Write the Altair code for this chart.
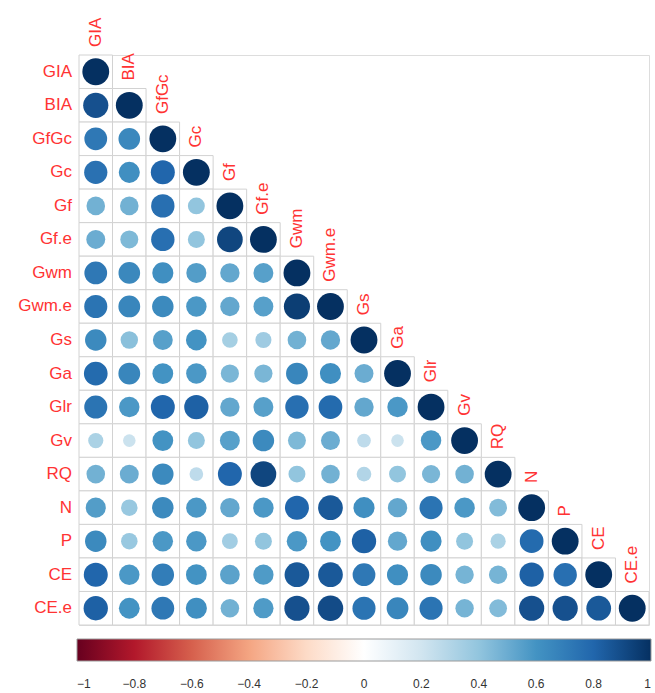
import altair as alt
import pandas as pd

# Variable names in plotting order
names = ["GIA", "BIA", "GfGc", "Gc", "Gf", "Gf.e", "Gwm", "Gwm.e", "Gs", "Ga",
         "Glr", "Gv", "RQ", "N", "P", "CE", "CE.e"]

# Lower-triangle correlations, one list per row (diagonal included)
r_GIA = [1.00]
r_BIA = [0.88, 1.00]
r_GfGc = [0.72, 0.65, 1.00]
r_Gc = [0.75, 0.62, 0.80, 1.00]
r_Gf = [0.48, 0.48, 0.76, 0.40, 1.00]
r_Gfe = [0.50, 0.45, 0.76, 0.40, 0.92, 1.00]
r_Gwm = [0.72, 0.65, 0.62, 0.56, 0.52, 0.55, 1.00]
r_Gwme = [0.74, 0.66, 0.64, 0.58, 0.52, 0.55, 0.95, 1.00]
r_Gs = [0.64, 0.42, 0.55, 0.60, 0.34, 0.36, 0.48, 0.52, 1.00]
r_Ga = [0.78, 0.66, 0.60, 0.58, 0.46, 0.46, 0.66, 0.62, 0.50, 1.00]
r_Glr = [0.74, 0.58, 0.80, 0.82, 0.52, 0.55, 0.76, 0.78, 0.52, 0.58, 1.00]
r_Gv = [0.32, 0.22, 0.60, 0.40, 0.55, 0.64, 0.45, 0.50, 0.26, 0.22, 0.58, 1.00]
r_RQ = [0.48, 0.50, 0.64, 0.26, 0.80, 0.92, 0.40, 0.48, 0.30, 0.40, 0.46, 0.48, 1.00]
r_N = [0.56, 0.38, 0.64, 0.58, 0.52, 0.58, 0.80, 0.85, 0.62, 0.52, 0.74, 0.58, 0.44, 1.00]
r_P = [0.64, 0.38, 0.58, 0.58, 0.35, 0.40, 0.58, 0.60, 0.82, 0.52, 0.62, 0.40, 0.32, 0.78, 1.00]
r_CE = [0.80, 0.58, 0.70, 0.60, 0.54, 0.57, 0.85, 0.85, 0.72, 0.62, 0.64, 0.47, 0.47, 0.82, 0.76, 1.00]
r_CEe = [0.82, 0.60, 0.72, 0.62, 0.48, 0.57, 0.88, 0.90, 0.74, 0.66, 0.74, 0.47, 0.44, 0.88, 0.88, 0.85, 1.00]

rows = [r_GIA, r_BIA, r_GfGc, r_Gc, r_Gf, r_Gfe, r_Gwm, r_Gwme, r_Gs, r_Ga,
        r_Glr, r_Gv, r_RQ, r_N, r_P, r_CE, r_CEe]

# Colour key ticks and RdBu palette
key_ticks = [-1, -0.8, -0.6, -0.4, -0.2, 0, 0.2, 0.4, 0.6, 0.8, 1]
rdbu = ["#67001F", "#B2182B", "#D6604D", "#F4A582", "#FDDBC7", "#FFFFFF",
        "#D1E5F0", "#92C5DE", "#4393C3", "#2166AC", "#053061"]

records = []
for i, row in enumerate(rows):
    for j, v in enumerate(row):
        records.append({"row": names[i], "col": names[j], "r": v, "absr": abs(v)})
df = pd.DataFrame(records)
diag = pd.DataFrame({"name": names, "first": [names[0]] * len(names)})

FONT = "Liberation Sans"
LABEL_RED = "#ff3333"
CELL = 570 / len(names)

band = alt.Scale(domain=names, paddingInner=0, paddingOuter=0)


def xpos(field):
    return alt.X(f"{field}:N", axis=None, scale=band)


def ypos(field):
    return alt.Y(f"{field}:N", axis=None, scale=band)


cells = alt.Chart(df).mark_rect(fill="white", stroke="#d2d2d2", strokeWidth=1).encode(
    x=xpos("col"), y=ypos("row")
)

circles = alt.Chart(df).mark_circle(opacity=1).encode(
    x=xpos("col"),
    y=ypos("row"),
    size=alt.Size("absr:Q", scale=alt.Scale(domain=[0, 1], range=[0, 720]), legend=None),
    color=alt.Color(
        "r:Q",
        scale=alt.Scale(domain=key_ticks, range=rdbu, interpolate="rgb"),
        legend=alt.Legend(
            type="gradient",
            orient="none", legendX=-2, legendY=584, direction="horizontal",
            gradientLength=574, gradientThickness=22, title=None,
            values=key_ticks, format="~g", labelAlign="center",
            labelFontSize=12, labelFont=FONT, labelColor="#333333",
            labelOffset=18, gradientStrokeColor="#9a9a9a", gradientStrokeWidth=1,
        ),
    ),
)

# Row names to the left of the first column
left_labels = alt.Chart(diag).mark_text(
    align="right", baseline="middle", font=FONT, fontSize=17, color=LABEL_RED,
    dx=-(CELL / 2 + 7),
).encode(x=xpos("first"), y=ypos("name"), text="name:N")

# Column names rotated above each diagonal cell
top_labels = alt.Chart(diag).mark_text(
    align="left", baseline="middle", angle=270, font=FONT, fontSize=17, color=LABEL_RED,
    dx=CELL / 2 + 8,
).encode(x=xpos("name"), y=ypos("name"), text="name:N")

chart = alt.layer(cells, circles, left_labels, top_labels).properties(
    width=570, height=570,
    autosize=alt.AutoSizeParams(type="none"),
    padding={"left": 79, "top": 55, "right": 6, "bottom": 68},
).configure_view(stroke=None).configure(background="white")

chart.save("out.html", embed_options={"renderer": "svg", "actions": False})
